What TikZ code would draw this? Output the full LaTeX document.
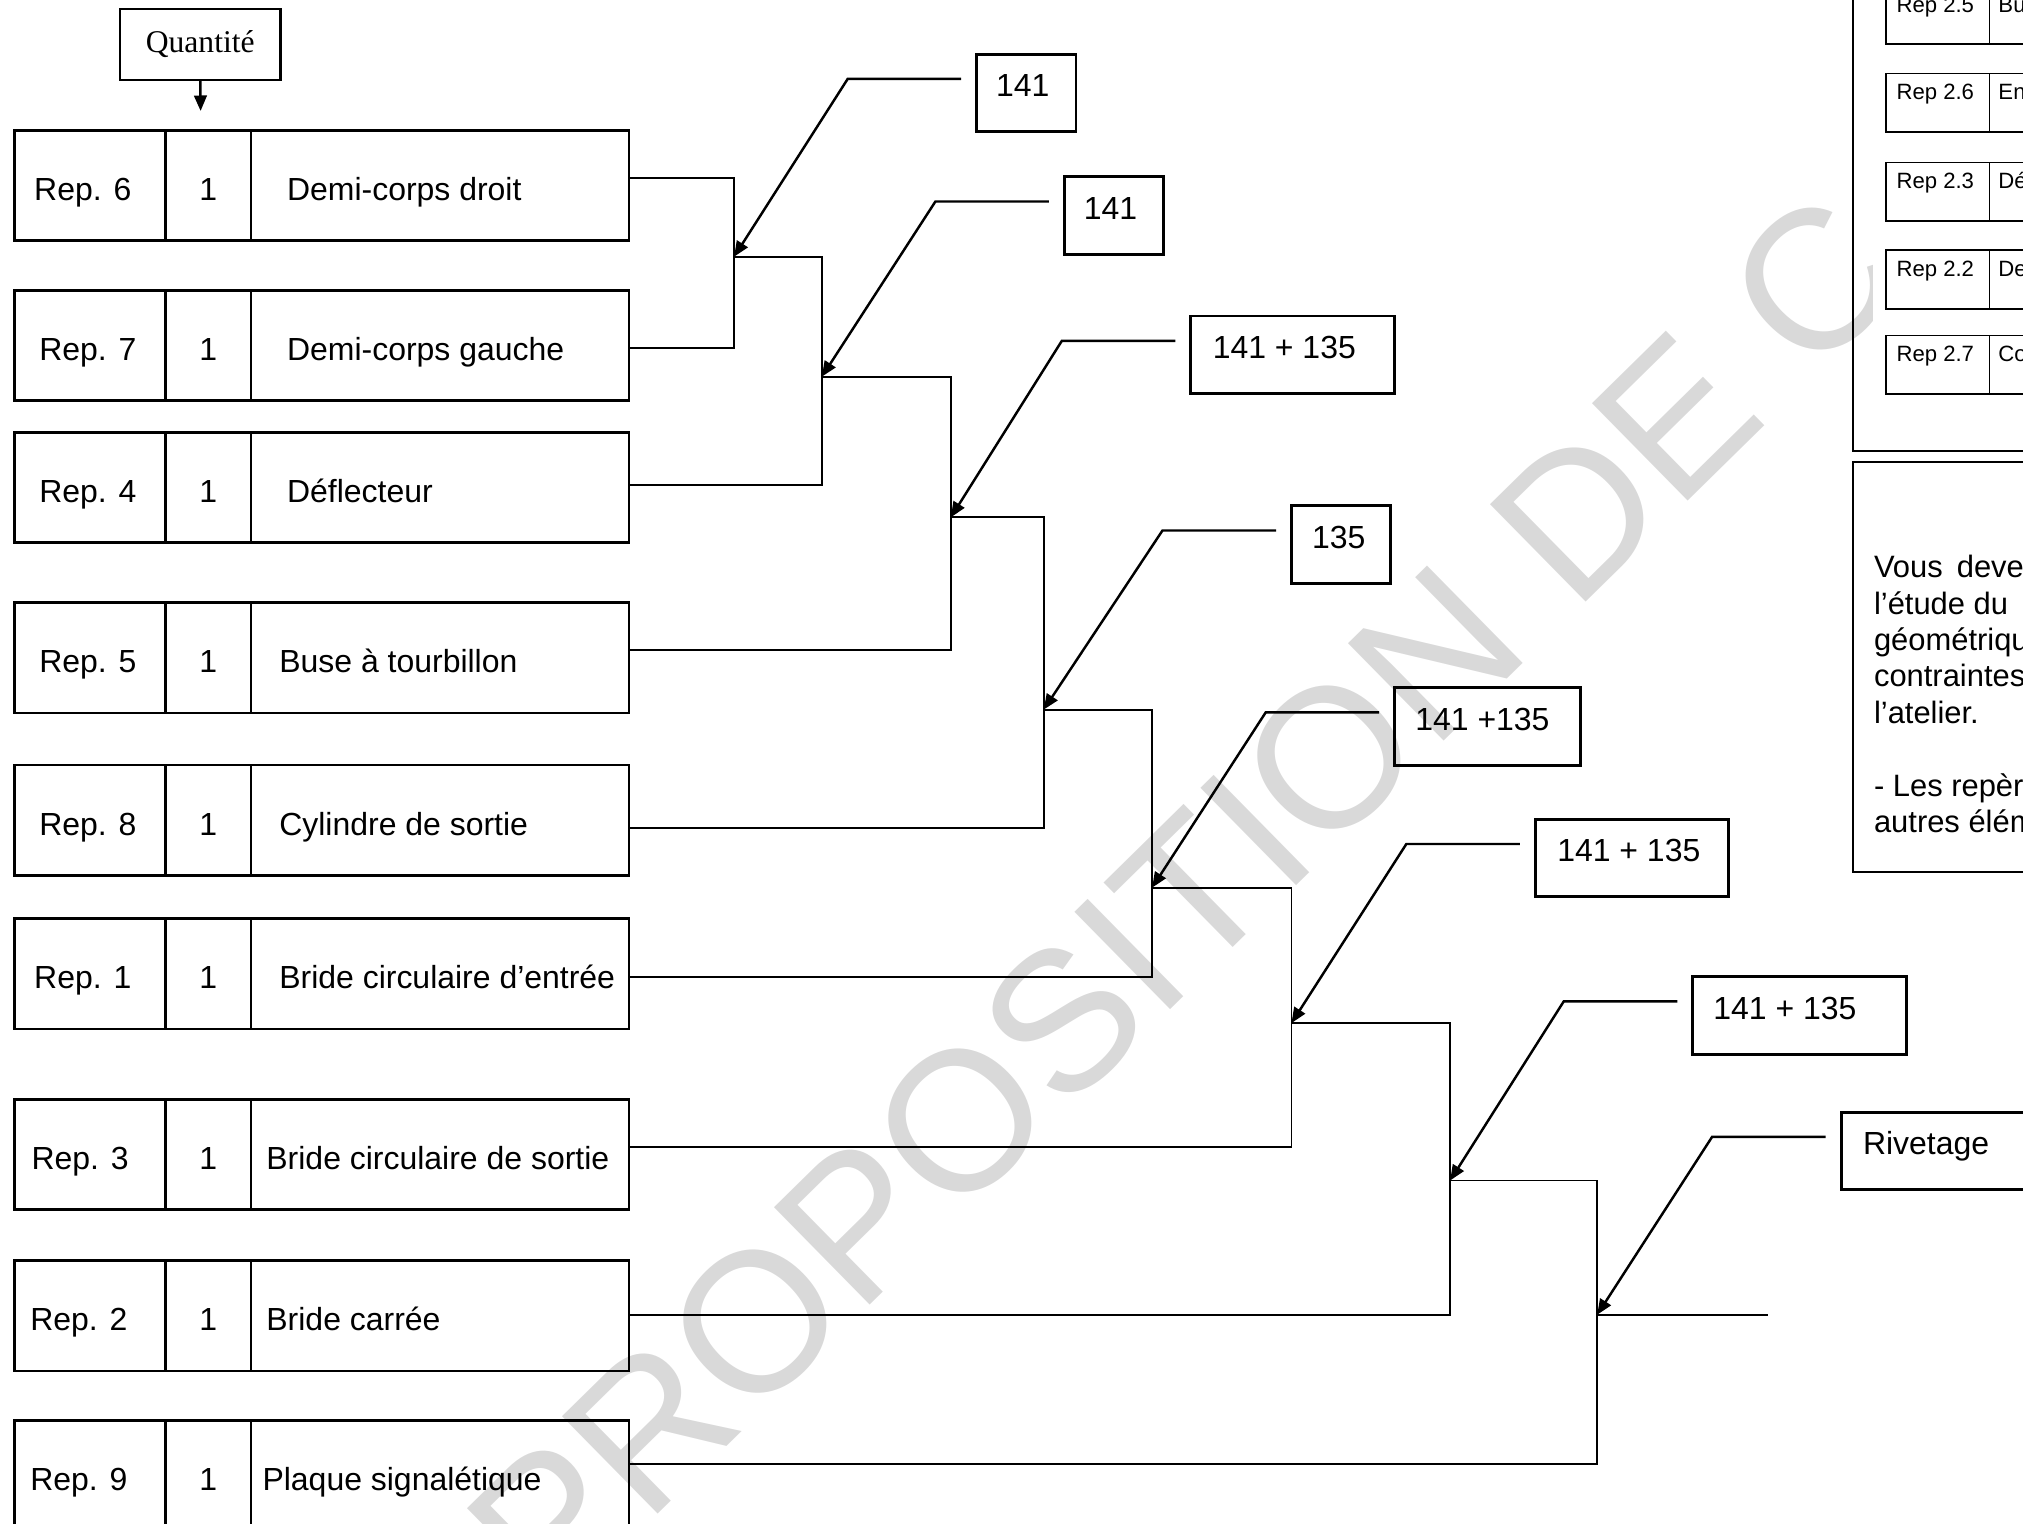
\documentclass[tikz,border=0pt]{standalone}
\usepackage{fontspec}
\setmainfont{Liberation Sans}
\newfontfamily\timesqte{Liberation Serif}
\usetikzlibrary{arrows.meta, positioning}

% 1 unite = 1 px de l'image reduite
\newlength{\dpx}
\setlength{\dpx}{0.012902cm}

\tikzset{
  cellule/.style={draw, line width=0.8pt, inner sep=0pt, outer sep=0pt, minimum height=31.45pt,
    text height=8.5pt, text depth=0pt, font=\fontsize{9.1}{11}\selectfont},
  procede/.style={draw, line width=0.8pt, inner sep=0pt, outer sep=0pt, minimum height=22.1pt,
    anchor=north west, text height=6.5pt, text depth=4.4pt,
    font=\fontsize{9.1}{11}\selectfont},
  fil/.style={line width=0.55pt},
  fleche/.style={line width=0.7pt, -{Triangle[length=4.4pt, width=3.6pt]}},
  cadre/.style={draw, line width=0.6pt, inner sep=0pt, outer sep=0pt, anchor=north west},
  petit/.style={draw, line width=0.5pt, inner sep=0pt, outer sep=0pt, minimum height=16.64pt,
    text height=4.5pt, text depth=6.2pt, font=\fontsize{6.3}{7.5}\selectfont},
}

\begin{document}
\begin{tikzpicture}[x=0.012902cm, y=-0.012902cm]
  \useasboundingbox (0,0) rectangle (1568,1181);
  \clip (0,0) rectangle (1568,1181);

  % filigrane
  \node[rotate=44.5, text=black!15, inner sep=0pt,
    font=\fontsize{56.5}{68}\selectfont] (filigrane) at (918,698) {PROPOSITION DE C};
  % le cartouche masque le filigrane
  \fill[white] (1452,-30) rectangle (1568,350);

  % quantite
  \node[cadre, minimum width=45.7pt, minimum height=20.1pt,
    font=\timesqte\fontsize{9}{11}\selectfont] (quantite) at (93,7) {Quantité};
  \coordinate (pointe) at (155.5,86);
  \draw[fleche] (quantite.south) -- (pointe);

  % rangees des pieces
  \foreach \k/\rep/\yt/\rp/\nm/\pd/\cy in {
      6/Rep. 6/101/15/Demi-corps droit/28/138,
      7/Rep. 7/225/19/Demi-corps gauche/28/270,
      4/Rep. 4/335/19/Déflecteur/28/376,
      5/Rep. 5/467/19/Buse à tourbillon/22/504,
      8/Rep. 8/593/19/Cylindre de sortie/22/642,
      1/Rep. 1/712/15/Bride circulaire d’entrée/22/757,
      3/Rep. 3/852/13/Bride circulaire de sortie/12/889,
      2/Rep. 2/977/12/Bride carrée/12/1019,
      9/Rep. 9/1101/12/Plaque signalétique/9/1135}{
    \node[cellule, anchor=north west] (rep\k) at (11.5,\yt)
      {\makebox[117\dpx][l]{\hspace*{\rp\dpx}\rep}};
    \node[cellule, anchor=west] (qte\k) at (rep\k.east)
      {\makebox[66\dpx]{1}};
    \node[cellule, anchor=west] (nom\k) at (qte\k.east)
      {\makebox[293\dpx][l]{\hspace*{\pd\dpx}\nm}};
    \coordinate (sortie\k) at (nom\k.east |- 0,\cy);
  }

  % points de jonction
  \coordinate (j1) at (569,199);
  \coordinate (j2) at (637,292);
  \coordinate (j3) at (737,401);
  \coordinate (j4) at (809,550);
  \coordinate (j5) at (893,688);
  \coordinate (j6) at (1001,793);
  \coordinate (j7) at (1124,915);
  \coordinate (j8) at (1238,1019);
  \coordinate (fin) at (1370,1019);

  \draw[fil] (sortie6) -| (j1) |- (sortie7);
  \foreach \a/\b/\r in {1/2/4, 2/3/5, 3/4/8, 4/5/1, 5/6/3, 6/7/2, 7/8/9}{
    \draw[fil] (j\a) -| (j\b) |- (sortie\r);
  }
  \draw[fil] (j8) -- (fin);

  % procedes de soudage
  \foreach \k/\x/\y/\w/\pd/\txt in {
      1/757/42/77/15/141,
      2/825/137/77/15/141,
      3/923/245/158/17/141 + 135,
      4/1001/392/77/16/135,
      5/1081/533/144/16/141 +135,
      6/1190/635/150/17/141 + 135,
      7/1312/757/166/16/141 + 135,
      8/1427/862/180/17/Rivetage}{
    \node[procede] (p\k) at (\x,\y)
      {\makebox[\w\dpx][l]{\hspace*{\pd\dpx}\txt}};
    \draw[fleche] ([xshift=-4.4pt, yshift=4pt]p\k.west) -- ++(-88,0) -- (j\k);
  }

  % cartouche de droite (coupe)
  \node[cadre, minimum width=109.7pt, minimum height=139.3pt] (nomenclature) at (1436,-30) {};
  \foreach \i/\rep/\yt/\lt in {1/Rep 2.5/-11/Bu, 2/Rep 2.6/57/En,
      3/Rep 2.3/126/Dé, 4/Rep 2.2/194/De, 5/Rep 2.7/260/Co}{
    \node[petit, anchor=north west] (rp\i) at (1462,\yt)
      {\makebox[80\dpx][l]{\hspace*{8\dpx}\rep}};
    \node[petit, anchor=west] (des\i) at (rp\i.east)
      {\makebox[120\dpx][l]{\hspace*{7\dpx}\lt}};
  }
  \node[cadre, minimum width=109.7pt, minimum height=116.7pt] (consigne) at (1436,358) {};
  \node[anchor=north west, inner sep=0pt, align=left,
    font=\fontsize{8.8}{10.35}\selectfont] (texte) at (1452,430)
    {Vous\hspace{4pt}devez\\l’étude du\\géométrique\\contraintes\\l’atelier.\\[10.35pt]- Les repères\\autres éléments};
\end{tikzpicture}
\end{document}
